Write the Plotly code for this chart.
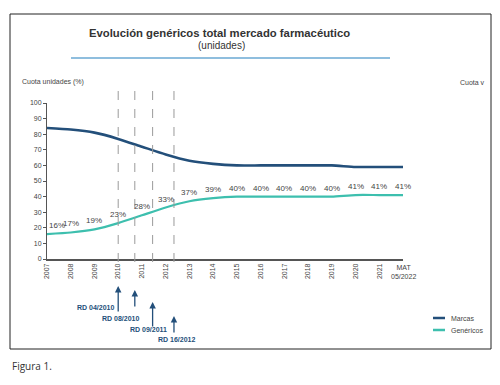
import plotly.graph_objects as go

# ---- data ----
categories = ["2007", "2008", "2009", "2010", "2011", "2012", "2013", "2014",
              "2015", "2016", "2017", "2018", "2019", "2020", "2021", "MAT<br>05/2022"]
marcas = [84, 83, 81, 77, 72, 67, 63, 61, 60, 60, 60, 60, 60, 59, 59, 59]
genericos = [16, 17, 19, 23, 28, 33, 37, 39, 40, 40, 40, 40, 40, 41, 41, 41]
genericos_labels = [f"{v}%" for v in genericos]
rd_labels = ["RD 04/2010", "RD 08/2010", "RD 09/2011", "RD 16/2012"]
rd_positions = [3.0, 3.7, 4.45, 5.35]   # category-index positions of decrees
y_ticks = list(range(0, 101, 10))

# ---- geometry helpers (pixel -> paper) ----
W, H = 500, 385
L, R, T, B = 47, 97, 103, 126
PW, PH = W - L - R, H - T - B


def px(x):
    return (x - L) / PW


def py(y):
    return (H - B - y) / PH


DARK = "#234f7a"
TEAL = "#3dbfae"
GREY = "#444444"
FONT = "Liberation Sans, Arial, sans-serif"

fig = go.Figure()
fig.add_trace(go.Scatter(
    x=categories, y=marcas, mode="lines", name="Marcas",
    line=dict(color=DARK, width=2.6, shape="spline", smoothing=0.6),
    showlegend=False, cliponaxis=False, hoverinfo="skip"))
fig.add_trace(go.Scatter(
    x=categories, y=genericos, mode="lines", name="Genéricos",
    line=dict(color=TEAL, width=2.2, shape="spline", smoothing=0.6),
    showlegend=False, cliponaxis=False, hoverinfo="skip"))

shapes = []
# outer frame
shapes.append(dict(type="rect", xref="paper", yref="paper",
                   x0=px(10), x1=px(491), y0=py(349), y1=py(14),
                   line=dict(color="#222222", width=1), layer="above"))
# title underline
shapes.append(dict(type="line", xref="paper", yref="paper",
                   x0=px(71), x1=px(390), y0=py(58), y1=py(58),
                   line=dict(color="#6aa9d3", width=1.5)))
# dashed decree lines
for xpos in rd_positions:
    shapes.append(dict(type="line", xref="x", yref="paper",
                       x0=xpos, x1=xpos, y0=py(262), y1=py(84),
                       line=dict(color="#9a9a9a", width=1, dash="dash")))
# legend keys
shapes.append(dict(type="line", xref="paper", yref="paper",
                   x0=px(433), x1=px(445), y0=py(318), y1=py(318),
                   line=dict(color=DARK, width=2.5)))
shapes.append(dict(type="line", xref="paper", yref="paper",
                   x0=px(433), x1=px(445), y0=py(330), y1=py(330),
                   line=dict(color=TEAL, width=2.5)))

ann = []


def text_ann(text, x, y, size, color=GREY, xanchor="center", family=FONT):
    return dict(text=text, xref="paper", yref="paper", x=px(x), y=py(y),
                xanchor=xanchor, yanchor="middle", showarrow=False,
                font=dict(size=size, color=color, family=family))


ann.append(text_ann("<b>Evolución genéricos total mercado farmacéutico</b>", 219, 33, 11.3, "#333333"))
ann.append(text_ann("(unidades)", 221, 45, 10, "#333333"))
ann.append(text_ann("Cuota unidades (%)", 20, 82, 7, xanchor="left"))
ann.append(text_ann("Cuota v", 458, 82, 7, xanchor="left"))
# MAT label (horizontal)
ann.append(dict(text=categories[-1], xref="x", yref="paper",
                x=len(categories) - 1, y=py(262), yanchor="top", xanchor="center",
                showarrow=False, font=dict(size=7, color=GREY, family=FONT)))

# data labels for Genéricos (x as category index)
for i, (v, lab) in enumerate(zip(genericos, genericos_labels)):
    ann.append(dict(text=lab, xref="x", yref="y", x=i, y=v,
                    xanchor="center", yanchor="middle",
                    xshift=10 if i == 0 else 0, yshift=8.5, showarrow=False,
                    font=dict(size=8, color=GREY, family=FONT)))

# arrows and decree labels
tips = [286, 290, 302, 316]
tails = [313, 308, 328, 334]
lab_right = [116, 141, 169, 197]
lab_y = [307, 318, 329, 339]
for xpos, tip, tail, lr, ly, txt in zip(rd_positions, tips, tails, lab_right, lab_y, rd_labels):
    ann.append(dict(text="", xref="x", yref="paper", x=xpos, y=py(tip),
                    ax=0, ay=tail - tip, showarrow=True, arrowhead=2,
                    arrowsize=1, arrowwidth=1.3, arrowcolor=DARK))
    ann.append(text_ann(f"<b>{txt}</b>", lr, ly, 7, DARK, xanchor="right"))

# legend text
ann.append(text_ann("Marcas", 449, 318, 7, xanchor="left"))
ann.append(text_ann("Genéricos", 449, 330, 7, xanchor="left"))
# caption
ann.append(text_ann("Figura 1.", 10, 366, 10, "#333333", xanchor="left",
                    family="Open Sans, sans-serif"))

fig.update_layout(
    width=W, height=H,
    margin=dict(l=L, r=R, t=T, b=B, pad=0),
    paper_bgcolor="white", plot_bgcolor="white",
    font=dict(family=FONT, size=7, color=GREY),
    shapes=shapes, annotations=ann, showlegend=False, hovermode=False,
    xaxis=dict(type="category", categoryorder="array", categoryarray=categories,
               range=[0, len(categories) - 1], automargin=False,
               tickmode="array", tickvals=categories[:-1], ticktext=categories[:-1],
               tickangle=-90, showgrid=False, zeroline=False,
               showline=True, linecolor="#555555", linewidth=1.5,
               ticks="", tickfont=dict(size=7, color=GREY)),
    yaxis=dict(range=[0, 100], tickvals=y_ticks, showgrid=False, zeroline=False,
               showline=True, linecolor="#555555", linewidth=1, automargin=False,
               ticks="outside", ticklen=3, tickcolor="#555555",
               tickfont=dict(size=7, color=GREY)),
)

fig.write_html("out.html", config={"displayModeBar": False},
               post_script="document.body.style.margin='0px';")
